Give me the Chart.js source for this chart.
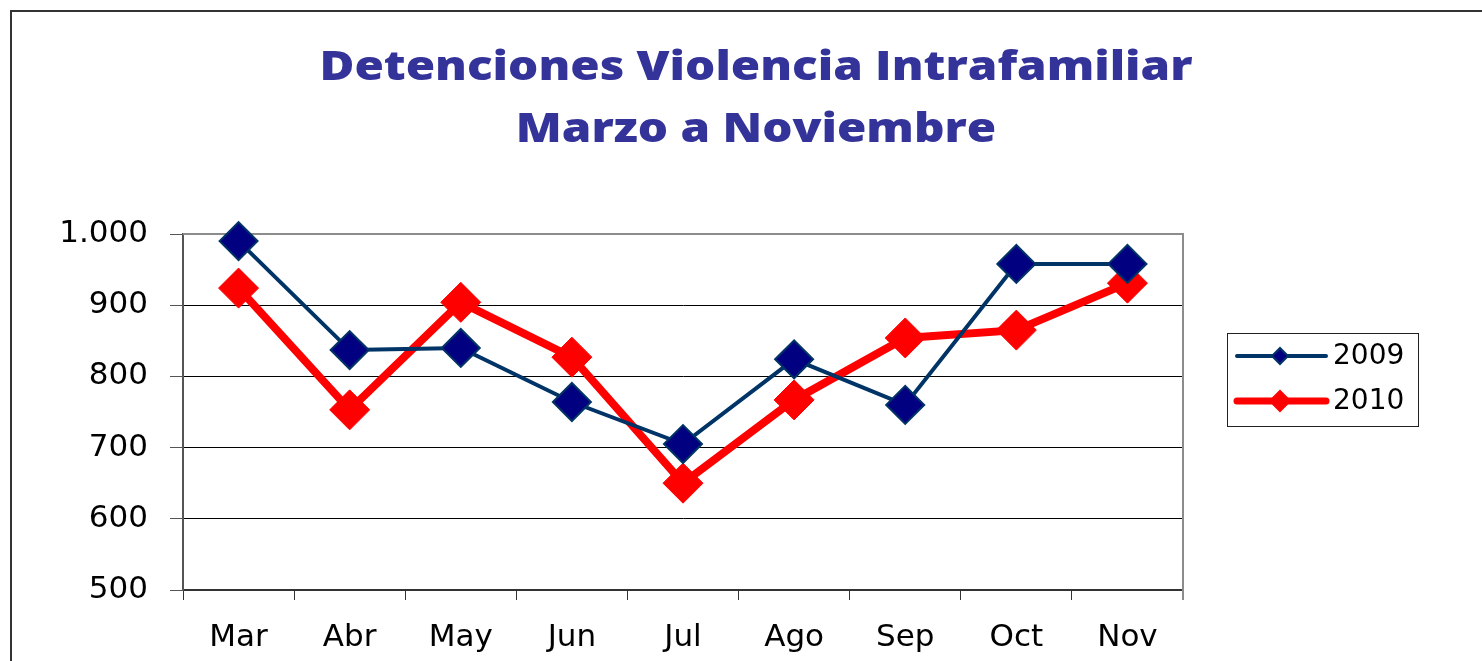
<!DOCTYPE html>
<html>
<head>
<meta charset="utf-8">
<script src="https://cdn.jsdelivr.net/npm/chart.js@4/dist/chart.umd.min.js"></script>
<style>
  html, body { margin: 0; padding: 0; background: #fff; }
  #wrap { width: 1482px; height: 661px; position: relative; }
</style>
</head>
<body>
<div id="wrap"><canvas id="chart"></canvas></div>
<script>
const months = ["Mar", "Abr", "May", "Jun", "Jul", "Ago", "Sep", "Oct", "Nov"];
const values2009 = [990, 837, 840, 764, 705, 824, 760, 958, 958];
const values2010 = [924, 753, 904, 827, 650, 767, 854, 865, 931];
const titleLines = ["Detenciones Violencia Intrafamiliar", "Marzo a Noviembre"];

const axisFont = '"DejaVu Sans", sans-serif';

// outer frame (only top and left edges are visible) + centred title
const framePlugin = {
    id: 'frame',
    beforeDraw(chart) {
        const ctx = chart.ctx;
        ctx.save();
        ctx.strokeStyle = '#333';
        ctx.lineWidth = 2;
        ctx.beginPath();
        ctx.moveTo(11, 700);
        ctx.lineTo(11, 11);
        ctx.lineTo(1490, 11);
        ctx.stroke();

        ctx.fillStyle = '#333399';
        ctx.font = '800 40px "Open Sans", sans-serif';
        ctx.textAlign = 'center';
        ctx.textBaseline = 'middle';
        const target = 873;
        const wMeasured = ctx.measureText(titleLines[0]).width;
        const sx = target / wMeasured; // stretch horizontally like the picture
        ctx.translate(756, 0);
        ctx.scale(sx, 1);
        ctx.fillText(titleLines[0], 0, 69);
        ctx.fillText(titleLines[1], 0, 131);
        ctx.restore();
    },
    beforeDatasetsDraw(chart) {
        // grey border on top and right of the plot area
        const a = chart.chartArea;
        const ctx = chart.ctx;
        ctx.save();
        ctx.strokeStyle = '#8c8c8c';
        ctx.lineWidth = 2;
        ctx.beginPath();
        ctx.moveTo(a.left, a.top);
        ctx.lineTo(a.right, a.top);
        ctx.lineTo(a.right, a.bottom + 10);
        ctx.stroke();
        ctx.restore();
    }
};

// boxed legend at the right
const legendBox = {
    id: 'legendBox',
    afterDraw(chart) {
        const ctx = chart.ctx;
        const x = 1227, y = 333, w = 191, h = 93;
        ctx.save();
        ctx.fillStyle = '#fff';
        ctx.fillRect(x, y, w, h);
        ctx.strokeStyle = '#222';
        ctx.lineWidth = 1;
        ctx.strokeRect(x + 0.5, y + 0.5, w, h);
        chart.data.datasets.forEach((ds, i) => {
            const cy = y + 23 + i * 45;
            ctx.strokeStyle = ds.borderColor;
            ctx.lineWidth = i === 0 ? 4 : 7;
            ctx.lineCap = 'round';
            ctx.beginPath();
            ctx.moveTo(x + 10, cy);
            ctx.lineTo(x + 99, cy);
            ctx.stroke();
            const r = i === 0 ? 8 : 10;
            ctx.beginPath();
            ctx.moveTo(x + 53 - r, cy);
            ctx.lineTo(x + 53, cy - r);
            ctx.lineTo(x + 53 + r, cy);
            ctx.lineTo(x + 53, cy + r);
            ctx.closePath();
            ctx.fillStyle = ds.pointBackgroundColor;
            ctx.fill();
            ctx.lineWidth = 2;
            ctx.strokeStyle = ds.pointBorderColor;
            ctx.stroke();
            ctx.fillStyle = '#000';
            ctx.font = '28px ' + axisFont;
            ctx.textBaseline = 'middle';
            ctx.fillText(ds.label, x + 106, cy + 1);
        });
        ctx.restore();
    }
};

const ctx = document.getElementById('chart').getContext('2d');

new Chart(ctx, {
    type: 'line',
    data: {
        labels: months,
        datasets: [{
            label: '2009',
            data: values2009,
            borderColor: '#003366',
            borderWidth: 4,
            pointStyle: 'rectRot',
            pointRadius: 19,
            pointHoverRadius: 19,
            pointBackgroundColor: '#000080',
            pointBorderColor: '#003366',
            pointBorderWidth: 2,
            tension: 0,
            clip: false
        }, {
            label: '2010',
            data: values2010,
            borderColor: '#ff0000',
            borderWidth: 8,
            pointStyle: 'rectRot',
            pointRadius: 20,
            pointHoverRadius: 20,
            pointBackgroundColor: '#ff0000',
            pointBorderColor: '#ff0000',
            pointBorderWidth: 1,
            tension: 0,
            clip: false
        }]
    },
    options: {
        responsive: true,
        maintainAspectRatio: false,
        animation: false,
        layout: {
            padding: { left: 10, right: 299, top: 234, bottom: 0 }
        },
        plugins: {
            legend: { display: false },
            tooltip: { enabled: false },
            title: { display: false }
        },
        scales: {
            x: {
                offset: true,
                afterFit: (s) => { s.height = 71; },
                grid: {
                    offset: true,
                    drawOnChartArea: false,
                    drawTicks: true,
                    tickLength: 10,
                    color: '#333'
                },
                border: { color: '#333', width: 2 },
                ticks: {
                    color: '#000',
                    padding: 19,
                    font: { family: axisFont, size: 31 }
                }
            },
            y: {
                min: 500,
                max: 1000,
                afterFit: (s) => { s.width = 173; },
                grid: {
                    color: (c) => c.tick && c.tick.value === 1000 ? 'rgba(0,0,0,0)' : '#000',
                    tickColor: '#555',
                    tickLength: 13,
                    lineWidth: 1
                },
                border: { color: '#555', width: 2 },
                ticks: {
                    stepSize: 100,
                    color: '#000',
                    padding: 22,
                    font: { family: axisFont, size: 31 },
                    callback: (v) => v.toLocaleString('de-DE')
                }
            }
        }
    },
    plugins: [framePlugin, legendBox]
});
</script>
</body>
</html>
